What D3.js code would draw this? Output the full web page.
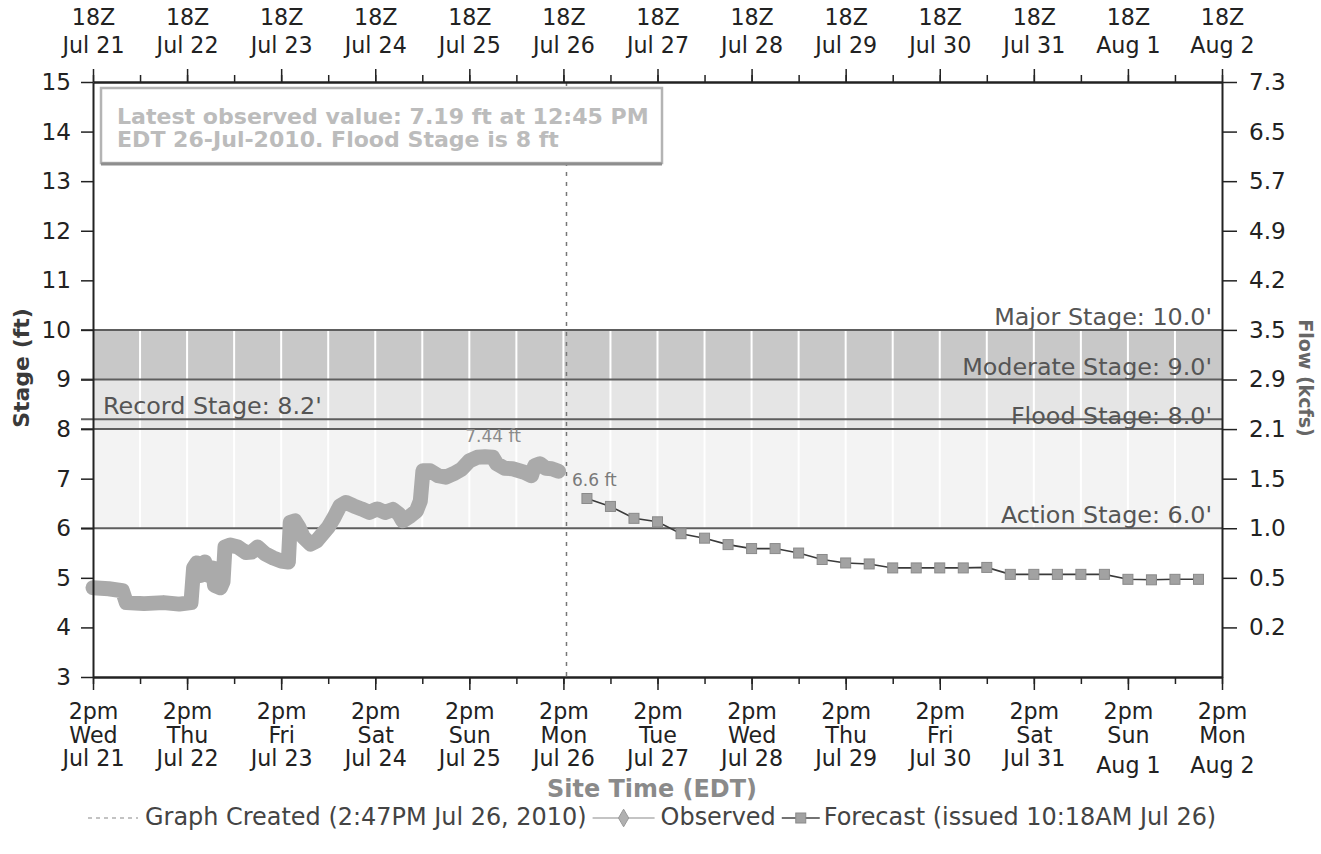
<!DOCTYPE html>
<html>
<head>
<meta charset="utf-8">
<script src="https://cdn.jsdelivr.net/npm/d3@7"></script>
<style>
  body { margin: 0; background: #fff; }
  svg { display: block; }
  text { font-family: "DejaVu Sans", Verdana, sans-serif; }
</style>
</head>
<body>
<div id="chart"></div>
<script>
var width = 1321
var height = 854
var plotL = 93, plotR = 1222, plotT = 82, plotB = 677

// observed stage (ft), site time EDT
var obsTimes = [
  "2010-07-21 14:00", "2010-07-21 18:00", "2010-07-21 21:30", "2010-07-21 22:30", "2010-07-22 03:00",
  "2010-07-22 08:00", "2010-07-22 12:00", "2010-07-22 15:00", "2010-07-22 15:40", "2010-07-22 16:30",
  "2010-07-22 17:30", "2010-07-22 18:30", "2010-07-22 19:30", "2010-07-22 20:30", "2010-07-22 21:00",
  "2010-07-22 22:30", "2010-07-22 23:10", "2010-07-22 23:40", "2010-07-23 01:00", "2010-07-23 03:00",
  "2010-07-23 05:00", "2010-07-23 06:30", "2010-07-23 08:00", "2010-07-23 10:00", "2010-07-23 12:00",
  "2010-07-23 14:00", "2010-07-23 15:50", "2010-07-23 16:20", "2010-07-23 17:30", "2010-07-23 18:30",
  "2010-07-23 19:40", "2010-07-23 21:30", "2010-07-23 23:00", "2010-07-24 00:30", "2010-07-24 02:00",
  "2010-07-24 03:30", "2010-07-24 05:00", "2010-07-24 06:30", "2010-07-24 08:30", "2010-07-24 10:30",
  "2010-07-24 12:30", "2010-07-24 14:30", "2010-07-24 16:30", "2010-07-24 18:30", "2010-07-24 20:00",
  "2010-07-24 21:00", "2010-07-24 23:00", "2010-07-25 00:30", "2010-07-25 01:30", "2010-07-25 02:10",
  "2010-07-25 04:00", "2010-07-25 06:00", "2010-07-25 08:00", "2010-07-25 10:00", "2010-07-25 12:00",
  "2010-07-25 14:00", "2010-07-25 16:00", "2010-07-25 18:00", "2010-07-25 20:00", "2010-07-25 21:00",
  "2010-07-25 23:00", "2010-07-26 01:00", "2010-07-26 04:00", "2010-07-26 05:50", "2010-07-26 06:40",
  "2010-07-26 08:00", "2010-07-26 09:30", "2010-07-26 11:00", "2010-07-26 12:45"
]
var obsStage = [
  4.80, 4.78, 4.74, 4.50, 4.48,
  4.50, 4.47, 4.50, 5.20, 5.30,
  5.05, 5.32, 5.05, 5.20, 4.85,
  4.80, 4.92, 5.62, 5.66, 5.62,
  5.51, 5.52, 5.62, 5.48, 5.40,
  5.34, 5.32, 6.12, 6.15, 6.02,
  5.82, 5.68, 5.74, 5.88, 6.02,
  6.22, 6.45, 6.52, 6.45, 6.39,
  6.32, 6.39, 6.32, 6.38, 6.29,
  6.15, 6.25, 6.35, 6.55, 7.16,
  7.16, 7.06, 7.03, 7.10, 7.19,
  7.36, 7.43, 7.44, 7.43, 7.30,
  7.21, 7.20, 7.13, 7.06, 7.26,
  7.30, 7.21, 7.20, 7.15
]

// forecast issued 10:18AM Jul 26
var fcTimes = [
  "2010-07-26 20:00", "2010-07-27 02:00", "2010-07-27 08:00", "2010-07-27 14:00", "2010-07-27 20:00",
  "2010-07-28 02:00", "2010-07-28 08:00", "2010-07-28 14:00", "2010-07-28 20:00", "2010-07-29 02:00",
  "2010-07-29 08:00", "2010-07-29 14:00", "2010-07-29 20:00", "2010-07-30 02:00", "2010-07-30 08:00",
  "2010-07-30 14:00", "2010-07-30 20:00", "2010-07-31 02:00", "2010-07-31 08:00", "2010-07-31 14:00",
  "2010-07-31 20:00", "2010-08-01 02:00", "2010-08-01 08:00", "2010-08-01 14:00", "2010-08-01 20:00",
  "2010-08-02 02:00", "2010-08-02 08:00"
]
var fcStage = [
  6.60, 6.44, 6.20, 6.13, 5.89, 5.80, 5.67, 5.59, 5.59, 5.50,
  5.37, 5.30, 5.28, 5.20, 5.20, 5.20, 5.20, 5.21, 5.07, 5.07,
  5.07, 5.07, 5.07, 4.97, 4.96, 4.97, 4.97
]

var stageNames = ["Major Stage", "Moderate Stage", "Flood Stage", "Action Stage", "Record Stage"]
var stageLevels = [10.0, 9.0, 8.0, 6.0, 8.2]

var bandFrom = [6, 8, 9]
var bandTo = [8, 9, 10]
var bandFill = ["#f3f3f3", "#e5e5e5", "#c8c8c8"]

var stageTicks = [3, 4, 5, 6, 7, 8, 9, 10, 11, 12, 13, 14, 15]
var flowLabels = ["", "0.2", "0.5", "1.0", "1.5", "2.1", "2.9", "3.5", "4.2", "4.9", "5.7", "6.5", "7.3"]
var dayNames = ["Wed", "Thu", "Fri", "Sat", "Sun", "Mon", "Tue", "Wed", "Thu", "Fri", "Sat", "Sun", "Mon"]
var dateLabels = ["Jul 21", "Jul 22", "Jul 23", "Jul 24", "Jul 25", "Jul 26", "Jul 27", "Jul 28", "Jul 29", "Jul 30", "Jul 31", "Aug 1", "Aug 2"]

var parse = d3.timeParse("%Y-%m-%d %H:%M")
var observed = obsTimes.map((t, i) => ({ t: parse(t), v: obsStage[i] }))
var forecast = fcTimes.map((t, i) => ({ t: parse(t), v: fcStage[i] }))
var start = parse("2010-07-21 14:00"), end = parse("2010-08-02 14:00")
var created = parse("2010-07-26 14:47")

var x = d3.scaleTime().domain([start, end]).range([plotL, plotR])
var y = d3.scaleLinear().domain([3, 15]).range([plotB, plotT])

var dayTicks = d3.timeHour.range(start, d3.timeHour.offset(end, 1), 24)
var halfTicks = d3.timeHour.range(start, d3.timeHour.offset(end, 1), 12)

var svg = d3.select('#chart').append('svg')
    .attr('width', width)
    .attr('height', height)

// helper: font size that makes a text span w pixels
function fit(sel, w) {
  var len = sel.node().getComputedTextLength()
  var fs = parseFloat(sel.attr('font-size'))
  return fs * w / len
}

// flood category bands
svg.append('g').selectAll('rect')
    .data(bandFrom)
    .join('rect')
    .attr('x', plotL)
    .attr('width', plotR - plotL)
    .attr('y', (d, i) => y(bandTo[i]))
    .attr('height', (d, i) => y(d) - y(bandTo[i]))
    .attr('fill', (d, i) => bandFill[i])

// white vertical grid every 12 h
svg.append('g').selectAll('line')
    .data(halfTicks.slice(1, -1))
    .join('line')
    .attr('x1', d => x(d)).attr('x2', d => x(d))
    .attr('y1', plotT).attr('y2', plotB)
    .attr('stroke', '#fff')
    .attr('stroke-width', 2)

// stage threshold lines
svg.append('g').selectAll('line')
    .data(stageLevels)
    .join('line')
    .attr('x1', plotL - 12).attr('x2', plotR)
    .attr('y1', d => y(d)).attr('y2', d => y(d))
    .attr('stroke', '#5e5e5e')
    .attr('stroke-width', 2)

var probe = svg.append('text').attr('font-size', 20).text("Moderate Stage: 9.0'")
var stageFs = fit(probe, 250)
probe.remove()

svg.append('g').selectAll('text')
    .data(stageLevels)
    .join('text')
    .attr('x', (d, i) => stageNames[i] == "Record Stage" ? plotL + 10 : plotR - 10)
    .attr('y', d => y(d) - 5)
    .attr('text-anchor', (d, i) => stageNames[i] == "Record Stage" ? 'start' : 'end')
    .attr('font-size', stageFs)
    .attr('fill', '#555')
    .text((d, i) => stageNames[i] + ': ' + d.toFixed(1) + "'")

// graph created marker
svg.append('line')
    .attr('x1', x(created)).attr('x2', x(created))
    .attr('y1', plotT).attr('y2', plotB)
    .attr('stroke', '#777')
    .attr('stroke-width', 1.5)
    .attr('stroke-dasharray', '4,6')

// info box
svg.append('rect')
    .attr('x', 101).attr('y', 88)
    .attr('width', 561).attr('height', 75)
    .attr('fill', '#fff')
    .attr('stroke', '#b4b4b4')
    .attr('stroke-width', 2.5)
svg.append('line')
    .attr('x1', 101).attr('x2', 662)
    .attr('y1', 164).attr('y2', 164)
    .attr('stroke', '#8e8e8e')
    .attr('stroke-width', 3)
var info1 = svg.append('text')
    .attr('x', 117).attr('y', 124)
    .attr('font-size', 18).attr('font-weight', 'bold')
    .attr('fill', '#bcbcbc')
    .text('Latest observed value: 7.19 ft at 12:45 PM')
var infoFs = fit(info1, 532)
info1.attr('font-size', infoFs)
svg.append('text')
    .attr('x', 117).attr('y', 147)
    .attr('font-size', infoFs).attr('font-weight', 'bold')
    .attr('fill', '#bcbcbc')
    .text('EDT 26-Jul-2010. Flood Stage is 8 ft')

// observed trace
var line = d3.line().x(d => x(d.t)).y(d => y(d.v))
svg.append('path')
    .datum(observed)
    .attr('d', line)
    .attr('fill', 'none')
    .attr('stroke', '#aaaaaa')
    .attr('stroke-width', 15)
    .attr('stroke-linejoin', 'round')
    .attr('stroke-linecap', 'round')

// forecast trace
svg.append('path')
    .datum(forecast)
    .attr('d', line)
    .attr('fill', 'none')
    .attr('stroke', '#3a3a3a')
    .attr('stroke-width', 1.6)
svg.append('g').selectAll('rect')
    .data(forecast)
    .join('rect')
    .attr('x', d => x(d.t) - 5)
    .attr('y', d => y(d.v) - 5)
    .attr('width', 10).attr('height', 10)
    .attr('fill', '#a2a2a2')
    .attr('stroke', '#8a8a8a')

var peak = observed[d3.maxIndex(observed, d => d.v)]
svg.append('text')
    .attr('x', x(peak.t) + 8).attr('y', y(peak.v) - 15)
    .attr('text-anchor', 'middle')
    .attr('font-size', 17).attr('fill', '#8a8a8a')
    .text(peak.v.toFixed(2) + ' ft')
svg.append('text')
    .attr('x', x(forecast[0].t) - 15).attr('y', y(forecast[0].v) - 13)
    .attr('font-size', 17).attr('fill', '#7a7a7a')
    .text(forecast[0].v.toFixed(1) + ' ft')

// axes
var probe2 = svg.append('text').attr('font-size', 20).text('Jul 21')
var tickFs = fit(probe2, 62)
probe2.remove()

function styleAxis(g) {
  g.select('.domain').attr('stroke', '#222').attr('stroke-width', 2)
  g.selectAll('.tick line').attr('stroke', '#222').attr('stroke-width', 1.5)
  g.selectAll('text').attr('font-family', '"DejaVu Sans", Verdana, sans-serif').attr('fill', '#222')
}

// minor ticks
svg.append('g')
    .attr('transform', `translate(0,${plotT})`)
    .call(d3.axisTop(x).tickValues(halfTicks).tickSize(7).tickSizeOuter(0).tickFormat(''))
    .call(styleAxis)
svg.append('g')
    .attr('transform', `translate(0,${plotB})`)
    .call(d3.axisBottom(x).tickValues(halfTicks).tickSize(7).tickSizeOuter(0).tickFormat(''))
    .call(styleAxis)

var topAxis = svg.append('g')
    .attr('transform', `translate(0,${plotT})`)
    .call(d3.axisTop(x).tickValues(dayTicks).tickSize(13).tickSizeOuter(0).tickFormat(''))
    .call(styleAxis)
topAxis.selectAll('.tick').append('text')
    .attr('text-anchor', 'middle')
    .attr('font-size', tickFs).attr('fill', '#222')
    .selectAll('tspan')
    .data((d, i) => ['18Z', dateLabels[i]])
    .join('tspan')
    .attr('x', 0)
    .attr('y', (d, j) => j == 0 ? -57 : -29)
    .text(d => d)

var bottomAxis = svg.append('g')
    .attr('transform', `translate(0,${plotB})`)
    .call(d3.axisBottom(x).tickValues(dayTicks).tickSize(13).tickSizeOuter(0).tickFormat(''))
    .call(styleAxis)
bottomAxis.selectAll('.tick').append('text')
    .attr('text-anchor', 'middle')
    .attr('font-size', tickFs).attr('fill', '#222')
    .selectAll('tspan')
    .data((d, i) => ['2pm', dayNames[i], dateLabels[i]])
    .join('tspan')
    .attr('x', 0)
    .attr('y', (d, j) => 42 + j * 23.5 + (j == 2 && d.startsWith('Aug') ? 7 : 0))
    .text(d => d)

svg.append('g')
    .attr('transform', `translate(${plotL},0)`)
    .call(d3.axisLeft(y).tickValues(stageTicks).tickSize(12).tickSizeOuter(0).tickPadding(10))
    .call(styleAxis)
    .selectAll('text').attr('font-size', tickFs + 1)

svg.append('g')
    .attr('transform', `translate(${plotR},0)`)
    .call(d3.axisRight(y).tickValues(stageTicks.slice(1)).tickSize(15).tickSizeOuter(0).tickPadding(12)
      .tickFormat((d, i) => flowLabels[i + 1]))
    .call(styleAxis)
    .selectAll('text').attr('font-size', tickFs + 1)

// axis titles
svg.append('text')
    .attr('transform', `translate(29,368) rotate(-90)`)
    .attr('text-anchor', 'middle')
    .attr('font-size', 22).attr('font-weight', 'bold')
    .attr('fill', '#3a3a3a')
    .text('Stage (ft)')
svg.append('text')
    .attr('transform', `translate(1299,378) rotate(90)`)
    .attr('text-anchor', 'middle')
    .attr('font-size', 19).attr('font-weight', 'bold')
    .attr('fill', '#666')
    .text('Flow (kcfs)')

var xTitle = svg.append('text')
    .attr('x', 652).attr('y', 797)
    .attr('text-anchor', 'middle')
    .attr('font-size', 20).attr('font-weight', 'bold')
    .attr('fill', '#8a8a8a')
    .text('Site Time (EDT)')
xTitle.attr('font-size', fit(xTitle, 210))

// legend
var legendY = 825
var lg = svg.append('g').attr('fill', '#444')
var t1 = lg.append('text').attr('x', 145).attr('y', legendY)
    .attr('font-size', 18).text('Graph Created (2:47PM Jul 26, 2010)')
var legFs = fit(t1, 442)
t1.attr('font-size', legFs)
lg.append('line')
    .attr('x1', 88).attr('x2', 138).attr('y1', legendY - 7).attr('y2', legendY - 7)
    .attr('stroke', '#888').attr('stroke-width', 1.2).attr('stroke-dasharray', '4,4')
var cx = 145 + t1.node().getComputedTextLength() + 6
lg.append('line')
    .attr('x1', cx).attr('x2', cx + 62).attr('y1', legendY - 7).attr('y2', legendY - 7)
    .attr('stroke', '#b0b0b0').attr('stroke-width', 1.5)
lg.append('path')
    .attr('d', d3.symbol(d3.symbolDiamond, 90)())
    .attr('transform', `translate(${cx + 31},${legendY - 7})`)
    .attr('fill', '#b0b0b0').attr('stroke', '#999')
var t2 = lg.append('text').attr('x', cx + 68).attr('y', legendY)
    .attr('font-size', legFs).text('Observed')
cx = cx + 68 + t2.node().getComputedTextLength() + 6
lg.append('line')
    .attr('x1', cx).attr('x2', cx + 38).attr('y1', legendY - 7).attr('y2', legendY - 7)
    .attr('stroke', '#444').attr('stroke-width', 1.3)
lg.append('rect')
    .attr('x', cx + 14).attr('y', legendY - 12).attr('width', 10).attr('height', 10)
    .attr('fill', '#a2a2a2').attr('stroke', '#8a8a8a')
lg.append('text').attr('x', cx + 42).attr('y', legendY)
    .attr('font-size', legFs).text('Forecast (issued 10:18AM Jul 26)')
</script>
</body>
</html>
